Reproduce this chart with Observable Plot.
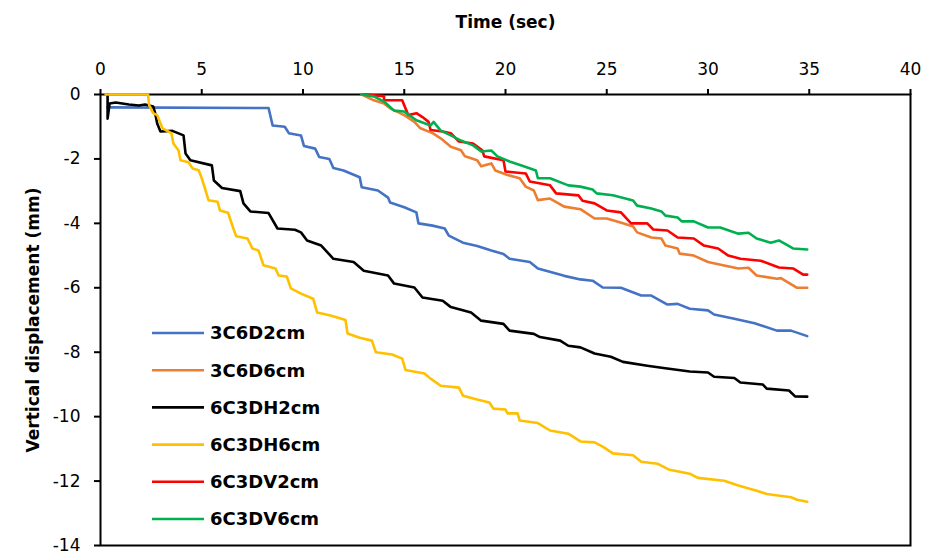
<!DOCTYPE html>
<html><head><meta charset="utf-8">
<script src="https://cdn.jsdelivr.net/npm/d3@7"></script>
<script src="https://cdn.jsdelivr.net/npm/@observablehq/plot@0.6"></script>
<style>body{margin:0;background:#fff} #chart{width:927px;height:552px}</style>
</head><body><div id="chart"></div>
<script>
const seriesNames = ["3C6D2cm","3C6D6cm","6C3DH2cm","6C3DH6cm","6C3DV2cm","6C3DV6cm"];
const seriesColors = ["#4472C4","#ED7D31","#000000","#FFC000","#FF0000","#00B050"];
const xTicks = [0,5,10,15,20,25,30,35,40];
const yTicks = [0,-2,-4,-6,-8,-10,-12,-14];
const xLabel = "Time (sec)";
const yLabel = "Vertical displacement (mm)";

const s3C6D2cm = [[0.35,-0.4],[8.3,-0.42],[8.5,-0.96],[9.1,-1.0],[9.3,-1.2],[9.9,-1.27],[10.05,-1.6],[10.6,-1.68],[10.8,-1.94],[11.3,-2.0],[11.5,-2.28],[12.0,-2.36],[12.8,-2.57],[12.9,-2.88],[13.7,-2.98],[14.2,-3.2],[14.3,-3.35],[15.0,-3.5],[15.6,-3.66],[15.7,-4.0],[16.4,-4.07],[17.0,-4.16],[17.2,-4.38],[17.9,-4.6],[18.6,-4.7],[19.3,-4.84],[19.9,-4.95],[20.2,-5.1],[21.2,-5.2],[21.6,-5.4],[22.9,-5.63],[23.7,-5.74],[24.3,-5.78],[24.8,-5.99],[25.7,-6.0],[26.7,-6.24],[27.2,-6.24],[28.0,-6.52],[28.5,-6.5],[29.1,-6.65],[30.0,-6.7],[30.3,-6.83],[31.3,-6.96],[32.3,-7.1],[33.4,-7.33],[34.1,-7.33],[34.9,-7.5]];
const s3C6D6cm = [[12.9,0],[13.5,-0.18],[14.0,-0.28],[14.3,-0.43],[15.0,-0.64],[15.5,-0.85],[15.8,-1.05],[16.4,-1.2],[16.8,-1.36],[17.3,-1.62],[17.8,-1.73],[18.0,-1.92],[18.6,-2.04],[18.8,-2.23],[19.3,-2.14],[19.5,-2.36],[20.1,-2.5],[20.7,-2.6],[21.0,-2.86],[21.4,-2.98],[21.6,-3.28],[22.2,-3.23],[22.9,-3.48],[23.7,-3.56],[24.4,-3.85],[25.0,-3.85],[25.8,-4.0],[26.3,-4.1],[26.5,-4.28],[27.2,-4.44],[27.7,-4.47],[27.9,-4.69],[28.5,-4.78],[28.6,-4.94],[29.3,-5.0],[30.0,-5.2],[30.8,-5.31],[31.5,-5.4],[32.0,-5.38],[32.4,-5.62],[33.4,-5.72],[33.6,-5.7],[34.4,-6.0],[34.9,-6.0]];
const s6C3DH2cm = [[0.35,0],[0.35,-0.75],[0.45,-0.28],[0.75,-0.25],[1.4,-0.31],[1.9,-0.34],[2.2,-0.31],[2.6,-0.37],[2.7,-0.58],[2.8,-0.9],[2.96,-1.15],[3.55,-1.13],[4.1,-1.27],[4.2,-1.83],[4.44,-2.04],[5.5,-2.2],[5.6,-2.67],[6.0,-2.9],[6.9,-3.0],[7.06,-3.38],[7.4,-3.63],[8.3,-3.68],[8.74,-4.16],[9.6,-4.2],[9.9,-4.28],[10.2,-4.53],[10.9,-4.69],[11.5,-5.1],[12.5,-5.2],[13.0,-5.47],[14.2,-5.62],[14.5,-5.87],[15.5,-5.99],[15.9,-6.3],[16.9,-6.4],[17.3,-6.6],[18.3,-6.77],[18.8,-7.02],[19.9,-7.12],[20.2,-7.33],[21.4,-7.43],[21.7,-7.53],[22.7,-7.64],[23.1,-7.8],[23.7,-7.85],[24.4,-8.04],[25.2,-8.14],[25.8,-8.3],[27.0,-8.42],[27.8,-8.49],[29.1,-8.6],[30.0,-8.63],[30.3,-8.76],[31.3,-8.8],[31.6,-8.94],[32.7,-9.0],[32.9,-9.13],[34.0,-9.19],[34.3,-9.37],[34.9,-9.38]];
const s6C3DH6cm = [[0.25,0],[2.35,0],[2.4,-0.33],[2.6,-0.58],[2.8,-0.64],[3.06,-1.05],[3.5,-1.2],[3.6,-1.52],[3.85,-1.73],[3.95,-2.04],[4.35,-2.1],[4.55,-2.3],[4.85,-2.35],[5.0,-2.6],[5.2,-3.0],[5.33,-3.28],[5.78,-3.33],[5.9,-3.6],[6.3,-3.67],[6.56,-4.16],[6.7,-4.4],[7.26,-4.47],[7.5,-4.78],[7.8,-4.84],[8.05,-5.3],[8.64,-5.4],[8.8,-5.62],[9.2,-5.65],[9.4,-6.02],[9.9,-6.18],[10.5,-6.34],[10.7,-6.77],[11.36,-6.86],[12.1,-7.0],[12.2,-7.42],[12.8,-7.55],[13.4,-7.64],[13.6,-8.0],[14.4,-8.07],[14.9,-8.2],[15.06,-8.55],[16.0,-8.66],[16.3,-8.82],[16.8,-9.04],[17.7,-9.1],[17.9,-9.35],[18.6,-9.47],[19.2,-9.56],[19.4,-9.75],[20.0,-9.78],[20.1,-9.9],[20.6,-9.9],[20.7,-10.12],[21.6,-10.2],[22.2,-10.43],[23.1,-10.53],[23.7,-10.77],[24.4,-10.8],[24.8,-10.93],[25.3,-11.14],[26.3,-11.2],[26.7,-11.4],[27.5,-11.46],[28.1,-11.65],[29.1,-11.77],[29.5,-11.9],[30.8,-11.99],[31.5,-12.14],[32.4,-12.3],[32.9,-12.4],[34.1,-12.5],[34.4,-12.58],[34.9,-12.64]];
const s6C3DV2cm = [[13.0,0],[14.0,-0.05],[14.0,-0.18],[14.9,-0.18],[15.06,-0.43],[15.2,-0.64],[15.6,-0.58],[15.9,-0.7],[16.2,-0.85],[16.3,-1.1],[16.9,-1.15],[17.3,-1.2],[17.7,-1.46],[18.4,-1.52],[18.85,-1.73],[18.95,-1.92],[19.9,-2.04],[20.0,-2.39],[21.0,-2.45],[21.2,-2.7],[22.2,-2.82],[22.5,-3.07],[23.6,-3.13],[23.8,-3.3],[24.4,-3.38],[25.0,-3.6],[25.7,-3.66],[26.2,-4.0],[27.0,-4.0],[27.3,-4.19],[28.0,-4.22],[28.5,-4.44],[29.3,-4.47],[29.8,-4.69],[30.5,-4.78],[31.0,-5.0],[31.6,-5.1],[32.6,-5.16],[33.5,-5.37],[34.2,-5.4],[34.7,-5.59],[34.9,-5.59]];
const s6C3DV6cm = [[12.9,0],[13.5,-0.06],[14.0,-0.22],[14.5,-0.5],[15.0,-0.53],[15.6,-0.8],[16.3,-0.96],[16.45,-0.85],[16.8,-1.12],[17.3,-1.27],[17.8,-1.43],[18.4,-1.58],[18.8,-1.77],[19.3,-1.74],[19.6,-1.92],[20.2,-2.08],[20.9,-2.23],[21.5,-2.36],[21.6,-2.6],[22.2,-2.6],[23.1,-2.82],[23.7,-2.86],[24.3,-2.95],[24.5,-3.07],[25.3,-3.13],[26.3,-3.29],[26.5,-3.45],[27.2,-3.54],[27.7,-3.63],[27.9,-3.76],[28.5,-3.82],[28.7,-3.94],[29.3,-3.94],[30.0,-4.13],[30.6,-4.13],[31.5,-4.32],[32.0,-4.29],[32.4,-4.47],[33.1,-4.6],[33.5,-4.53],[34.2,-4.78],[34.9,-4.81]];

const seriesData = [s3C6D2cm, s3C6D6cm, s6C3DH2cm, s6C3DH6cm, s6C3DV2cm, s6C3DV6cm];
const rows = seriesData.flatMap((arr, i) => arr.map(([t, v]) => ({t, v, series: seriesNames[i]})));

const plot = Plot.plot({
  width: 927, height: 552,
  marginLeft: 100, marginRight: 17, marginTop: 94, marginBottom: 7,
  style: {fontFamily: "DejaVu Sans", fontSize: "17px", color: "#000", background: "#fff", overflow: "visible"},
  x: {domain: [0, 40]},
  y: {domain: [-14, 0]},
  color: {domain: seriesNames, range: seriesColors},
  marks: [
    Plot.axisX({anchor: "top", ticks: xTicks, tickSize: 6, tickPadding: 14, label: null, strokeWidth: 2, tickFormat: d => String(d)}),
    Plot.axisY({anchor: "left", ticks: yTicks, tickSize: 6, tickPadding: 14, label: null, strokeWidth: 2, tickFormat: d => String(d)}),
    Plot.frame({stroke: "#000", strokeWidth: 2}),
    Plot.line(rows, {x: "t", y: "v", z: "series", stroke: "series", strokeWidth: 2.6}),
    Plot.text([xLabel], {frameAnchor: "top", dy: -72, lineAnchor: "middle", textAnchor: "middle", fontWeight: "bold", fontSize: 17}),
    Plot.text([yLabel], {frameAnchor: "left", dx: -67, rotate: -90, lineAnchor: "middle", textAnchor: "middle", fontWeight: "bold", fontSize: 17})
  ]
});

const svg = d3.select(plot);
const lg = svg.append("g").attr("text-anchor", "start");
seriesNames.forEach((n, i) => {
  const y = 333 + i * 37.2;
  lg.append("line").attr("x1", 152).attr("x2", 204).attr("y1", y).attr("y2", y)
    .attr("stroke", seriesColors[i]).attr("stroke-width", 2.6);
  lg.append("text").attr("x", 210).attr("y", y).attr("dy", "0.36em")
    .attr("font-weight", "bold").attr("font-size", 18).attr("fill", "#000").text(n);
});
document.getElementById("chart").appendChild(plot);
</script>
</body></html>
